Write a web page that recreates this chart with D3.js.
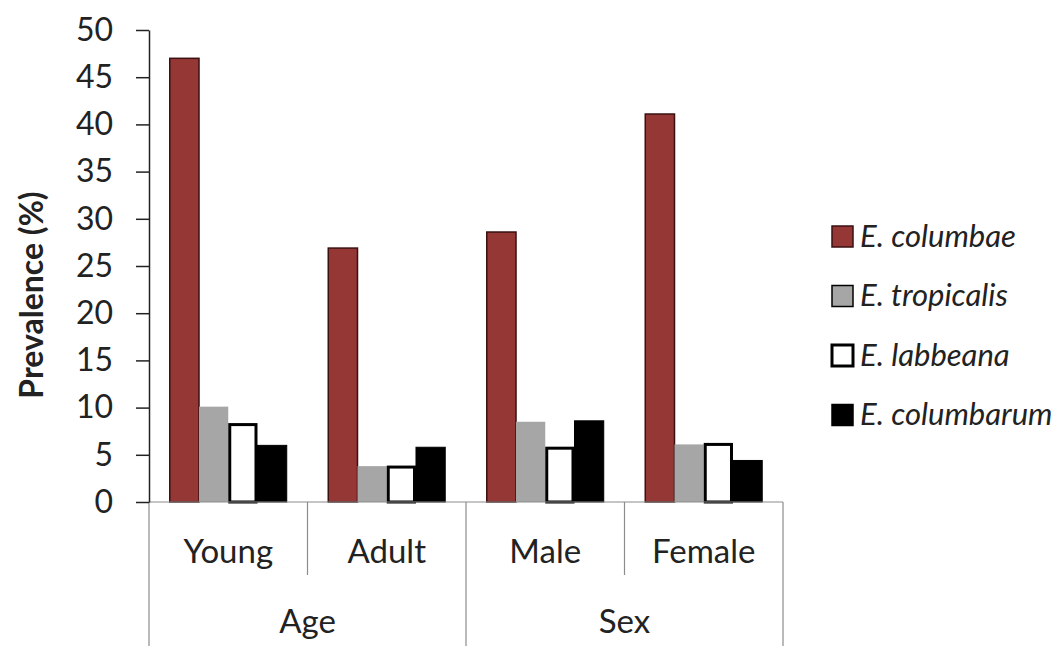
<!DOCTYPE html>
<html>
<head>
<meta charset="utf-8">
<script src="https://cdn.jsdelivr.net/npm/d3@7"></script>
<style>
  body { margin: 0; background: #fff; }
  text { font-family: Lato, "Open Sans", sans-serif; fill: #222; }
</style>
</head>
<body>
<div class="barChart"></div>
<script>
var width = 1064,
    height = 646;

// categories and groups
var categories = ["Young", "Adult", "Male", "Female"];
var groups = ["Age", "Sex"];
var groupOf = ["Age", "Age", "Sex", "Sex"];

// series (values per category, %)
var series = ["E. columbae", "E. tropicalis", "E. labbeana", "E. columbarum"];
var columbae   = [47.0, 26.9, 28.6, 41.1];
var tropicalis = [10.1, 3.8, 8.5, 6.1];
var labbeana   = [8.2, 3.7, 5.7, 6.1];
var columbarum = [6.0, 5.8, 8.6, 4.4];
var values = [columbae, tropicalis, labbeana, columbarum];

var yTicks = [0, 5, 10, 15, 20, 25, 30, 35, 40, 45, 50];

var fills   = ["#953735", "#a6a6a6", "#ffffff", "#000000"];
var strokes = ["#3a1010", "none", "#000000", "#000000"];
var strokeW = [1.5, 0, 3, 1];

var plotLeft = 149, plotRight = 783, plotTop = 30, plotBottom = 502;

var svg = d3.select(".barChart")
  .append("svg")
  .attr("width", width)
  .attr("height", height);

var x0 = d3.scaleBand()
  .domain(categories)
  .range([plotLeft, plotRight])
  .paddingInner(0)
  .paddingOuter(0);

var x1 = d3.scaleBand()
  .domain(series)
  .range([0, x0.bandwidth()])
  .paddingInner(0)
  .paddingOuter(0.71);

var y = d3.scaleLinear()
  .domain([0, 50])
  .range([plotBottom, plotTop]);

// bars
var catG = svg.selectAll("g.cat")
  .data(categories)
  .enter()
  .append("g")
  .attr("class", "cat")
  .attr("transform", function(d) { return "translate(" + x0(d) + ",0)"; });

catG.selectAll("rect")
  .data(function(d, ci) {
    return series.map(function(s, si) { return { s: s, si: si, v: values[si][ci] }; });
  })
  .enter()
  .append("rect")
  .attr("x", function(d) { return x1(d.s) + (d.si == 2 ? 1.5 : 0); })
  .attr("y", function(d) { return y(d.v); })
  .attr("width", function(d) { return x1.bandwidth() - (d.si == 2 ? 3 : 0); })
  .attr("height", function(d) { return y(0) - y(d.v); })
  .attr("fill", function(d) { return fills[d.si]; })
  .attr("stroke", function(d) { return strokes[d.si]; })
  .attr("stroke-width", function(d) { return strokeW[d.si]; });

// x axis line and category dividers
svg.append("line")
  .attr("x1", plotLeft).attr("x2", plotRight)
  .attr("y1", plotBottom).attr("y2", plotBottom)
  .attr("stroke", "#8c8c8c")
  .attr("stroke-width", 1.2);

var dividers = categories.map(function(c, i) {
  var outer = i == 0 || groupOf[i] != groupOf[i - 1];
  return { x: x0(c), outer: outer };
});
dividers.push({ x: plotRight, outer: true });

svg.selectAll("line.div")
  .data(dividers)
  .enter()
  .append("line")
  .attr("class", "div")
  .attr("x1", function(d) { return d.x; })
  .attr("x2", function(d) { return d.x; })
  .attr("y1", plotBottom)
  .attr("y2", function(d) { return d.outer ? height : 575; })
  .attr("stroke", "#8c8c8c")
  .attr("stroke-width", 1.2);

svg.selectAll("text.cat")
  .data(categories)
  .enter()
  .append("text")
  .attr("class", "cat")
  .attr("x", function(d) { return x0(d) + x0.bandwidth() / 2; })
  .attr("y", 563)
  .attr("text-anchor", "middle")
  .attr("font-size", "33px")
  .text(function(d) { return d; });

svg.selectAll("text.grp")
  .data(groups)
  .enter()
  .append("text")
  .attr("class", "grp")
  .attr("x", function(g) {
    var cs = categories.filter(function(c, i) { return groupOf[i] == g; });
    return (x0(cs[0]) + x0(cs[cs.length - 1]) + x0.bandwidth()) / 2;
  })
  .attr("y", 633)
  .attr("text-anchor", "middle")
  .attr("font-size", "33px")
  .text(function(d) { return d; });

// y axis
var yAxis = svg.append("g")
  .attr("transform", "translate(" + plotLeft + ",0)")
  .call(d3.axisLeft(y).tickValues(yTicks).tickSize(13).tickSizeOuter(0).tickPadding(23));

yAxis.select(".domain").attr("stroke", "#222").attr("stroke-width", 1.5);
yAxis.selectAll(".tick line").attr("stroke", "#222").attr("stroke-width", 1.5);
yAxis.selectAll(".tick text")
  .attr("font-family", "Lato, 'Open Sans', sans-serif")
  .attr("font-size", "32px")
  .attr("fill", "#333");

svg.append("text")
  .attr("transform", "translate(43,295) rotate(-90)")
  .attr("text-anchor", "middle")
  .attr("font-size", "32px")
  .attr("font-weight", "bold")
  .text("Prevalence (%)");

// legend
var legendRectSize = 21;
var legendSpacing = 59.5;

var legend = svg.selectAll(".legend")
  .data(series)
  .enter()
  .append("g")
  .attr("class", "legend")
  .attr("transform", function(d, i) {
    return "translate(832," + (226 + i * legendSpacing) + ")";
  });

legend.append("rect")
  .attr("width", legendRectSize)
  .attr("height", legendRectSize)
  .attr("fill", function(d, i) { return fills[i]; })
  .attr("stroke", function(d, i) { return i == 0 ? "#3a1010" : "#000"; })
  .attr("stroke-width", function(d, i) { return i == 2 ? 3 : 1.5; });

legend.append("text")
  .attr("x", legendRectSize + 7)
  .attr("y", legendRectSize / 2 + 10)
  .attr("font-size", "31px")
  .attr("font-style", "italic")
  .text(function(d) { return d; });
</script>
</body>
</html>
